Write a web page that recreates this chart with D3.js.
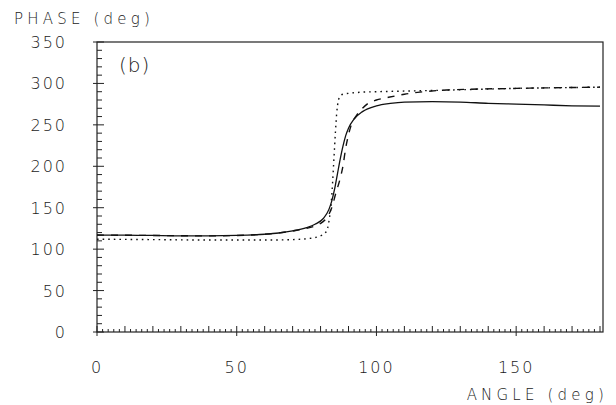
<!DOCTYPE html>
<html>
<head>
<meta charset="utf-8">
<script src="https://cdn.jsdelivr.net/npm/d3@7"></script>
<style>
  body { margin: 0; background: #fff; }
  text { font-family: "DejaVu Sans", sans-serif; font-weight: 200; fill: #1a1a1a; }
</style>
</head>
<body>
<svg id="grafica" width="616" height="405"></svg>
<script>
// Fase contra ángulo, panel (b)

const svg_w = 616;
const svg_h = 405;
const margin = {l: 97, r: 13, t: 42, b: 73};
const viz_w = svg_w - margin.l - margin.r;
const viz_h = svg_h - margin.t - margin.b;

// marcas de los ejes
const x_ticks = [0, 50, 100, 150];
const y_ticks = [0, 50, 100, 150, 200, 250, 300, 350];

// curva continua
const solid_angle = [0, 10, 20, 30, 40, 50, 60, 65, 70, 75, 78, 81, 83, 84, 85, 86, 87, 88, 89, 90, 92, 95, 100, 105, 110, 120, 130, 140, 150, 160, 170, 180];
const solid_phase = [117, 117, 116.5, 116, 116, 116.5, 118, 119.5, 122, 126, 130, 137, 148, 158, 172, 190, 208, 224, 237, 246, 257, 266, 273, 276, 277.5, 278, 277.5, 276, 275, 274, 273, 272.5];

// curva punteada
const dotted_angle = [0, 20, 40, 60, 70, 75, 78, 80, 81.5, 82.5, 83.2, 83.8, 84.3, 84.8, 85.3, 85.8, 86.3, 87, 88, 90, 95, 100, 120, 150, 180];
const dotted_phase = [112, 111.5, 111, 111, 111.5, 112.5, 114, 116, 119, 125, 138, 155, 180, 210, 240, 265, 278, 284.5, 287, 288, 289.5, 290, 291.5, 294, 295.5];

// curva de trazos
const dashed_angle = [0, 20, 40, 60, 70, 75, 78, 80, 82, 84, 85.5, 87, 88, 89, 90, 91, 93, 95, 97, 100, 104, 110, 117, 125, 150, 180];
const dashed_phase = [117, 116.5, 116, 118, 122, 125, 128, 131, 137, 150, 168, 185, 200, 222, 238, 250, 262, 270, 276, 280, 283, 287, 290, 292, 294, 295.5];

const svg = d3.select("#grafica");

const x_scale = d3.scaleLinear().domain([0, 180]).range([0, viz_w - 3]);
const y_scale = d3.scaleLinear().domain([0, 350]).range([viz_h, 0]);

const g = svg.append("g").attr("transform", `translate(${margin.l},${margin.t})`);

// marco
g.append("rect")
  .attr("x", 0).attr("y", 0)
  .attr("width", viz_w).attr("height", viz_h)
  .attr("fill", "none").attr("stroke", "#222").attr("stroke-width", 1.2);

// marcas menores del eje x (cada 2), medianas (cada 10), mayores (cada 50)
const x_minor = d3.range(0, 181, 2);
g.append("g").selectAll("line")
  .data(x_minor)
  .enter().append("line")
  .attr("x1", d => x_scale(d)).attr("x2", d => x_scale(d))
  .attr("y1", d => d % 50 == 0 ? viz_h + 4 : viz_h)
  .attr("y2", d => d % 10 == 0 ? viz_h - 6 : viz_h - 3)
  .attr("stroke", "#222").attr("stroke-width", 1);

// marcas del eje y (cada 10)
const y_minor = d3.range(0, 351, 10);
g.append("g").selectAll("line")
  .data(y_minor)
  .enter().append("line")
  .attr("y1", d => y_scale(d)).attr("y2", d => y_scale(d))
  .attr("x1", d => d % 50 == 0 ? -4 : 0)
  .attr("x2", d => d % 50 == 0 ? 7 : 5)
  .attr("stroke", "#222").attr("stroke-width", 1);

// etiquetas
g.append("g").selectAll("text")
  .data(x_ticks)
  .enter().append("text")
  .attr("x", d => x_scale(d))
  .attr("y", viz_h + 41)
  .attr("text-anchor", "middle")
  .attr("font-size", 16)
  .attr("letter-spacing", 2)
  .text(d => d);

g.append("g").selectAll("text")
  .data(y_ticks)
  .enter().append("text")
  .attr("x", -30)
  .attr("y", d => y_scale(d) + 6)
  .attr("text-anchor", "end")
  .attr("font-size", 16)
  .attr("letter-spacing", 2)
  .text(d => d);

svg.append("text")
  .attr("x", 14).attr("y", 24)
  .attr("font-size", 15)
  .attr("letter-spacing", 4.2)
  .text("PHASE (deg)");

svg.append("text")
  .attr("x", 608).attr("y", 400)
  .attr("text-anchor", "end")
  .attr("font-size", 15)
  .attr("letter-spacing", 4.2)
  .text("ANGLE (deg)");

g.append("text")
  .attr("x", 22).attr("y", 30)
  .attr("font-size", 20)
  .attr("letter-spacing", 1)
  .text("(b)");

// curvas
function draw_curve(angle, phase, dash) {
  const pts = angle.map((a, i) => [a, phase[i]]);
  const line = d3.line()
    .x(d => x_scale(d[0]))
    .y(d => y_scale(d[1]))
    .curve(d3.curveMonotoneX);
  g.append("path")
    .datum(pts)
    .attr("d", line)
    .attr("fill", "none")
    .attr("stroke", "#111")
    .attr("stroke-width", dash ? 1.4 : 1.3)
    .attr("stroke-dasharray", dash);
}

draw_curve(dotted_angle, dotted_phase, "1.6,4");
draw_curve(dashed_angle, dashed_phase, "7,7");
draw_curve(solid_angle, solid_phase, null);
</script>
</body>
</html>
